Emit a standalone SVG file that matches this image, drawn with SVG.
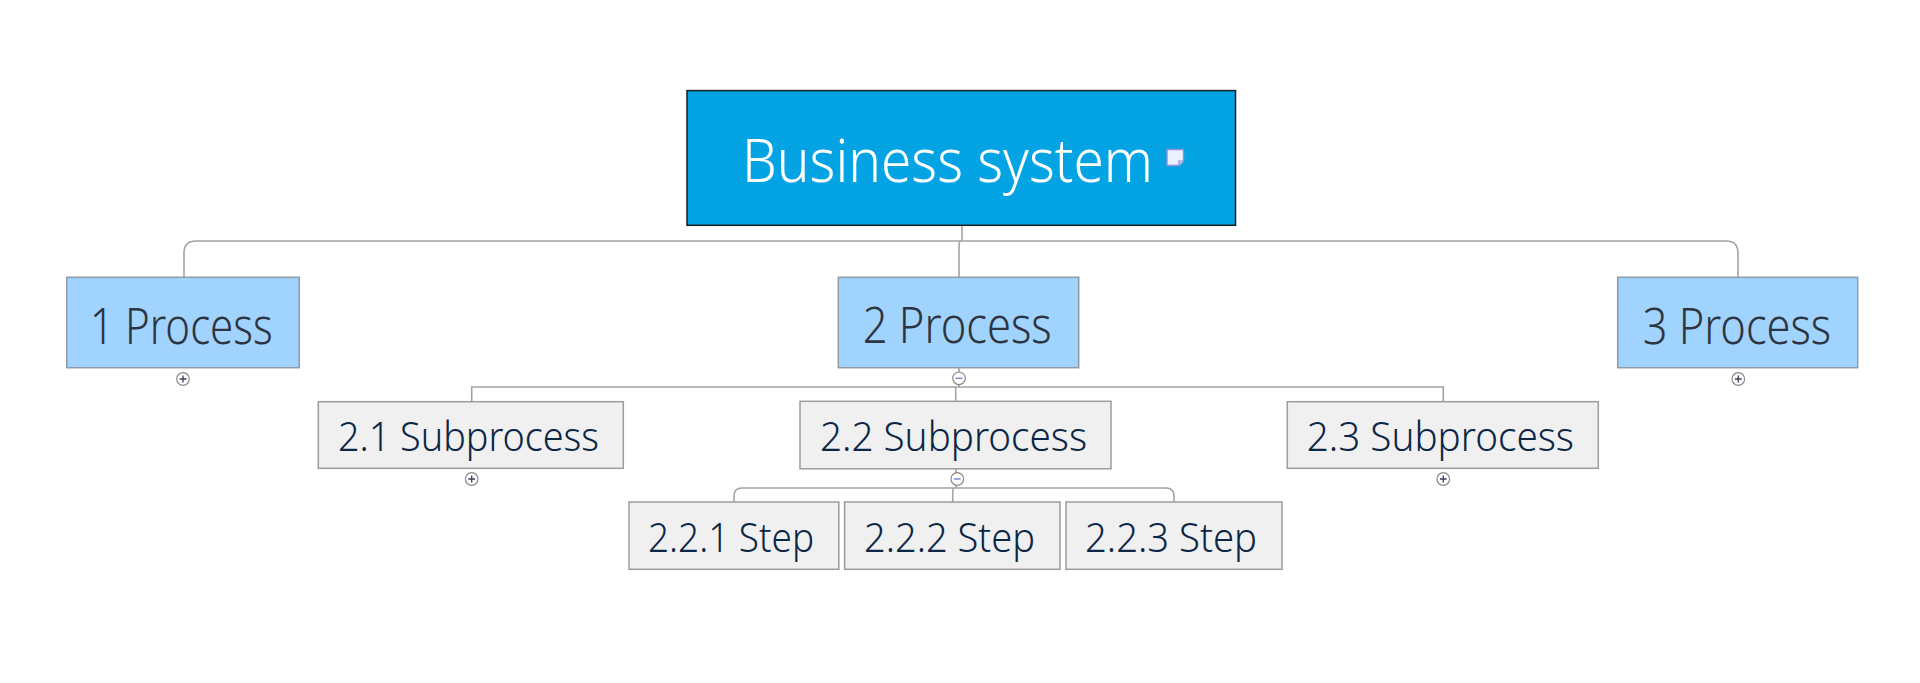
<svg xmlns="http://www.w3.org/2000/svg" width="1920" height="683" viewBox="0 0 1920 683">
<style>
.bg{fill:#ffffff}
.root{fill:#03a3e4;stroke:#1c1c1c;stroke-width:1.5}
.proc{fill:#a0d4fe;stroke:#8e9aa6;stroke-width:1.5}
.sub{fill:#f0f0f0;stroke:#9c9c9c;stroke-width:1.5}
.t{font-family:"Noto Sans","Open Sans","Liberation Sans",sans-serif;font-weight:300}
.troot{fill:#ffffff;font-size:61px}
.tproc{fill:#2e3440;font-size:49px}
.tsub{fill:#0c2646;font-size:41px}
.conn{fill:none;stroke:#a3a3a3;stroke-width:1.6}
.tog{fill:#ffffff;stroke:#8a8a8a;stroke-width:1.2}
.glyph{fill:none;stroke:#3a3f55;stroke-width:1.3}
.glyphm{fill:none;stroke:#6a7ccc;stroke-width:1.3}
</style>
<rect class="bg" x="0" y="0" width="1920" height="683"/>
<g id="connectors">
<path class="conn" d="M962 225 V240.5"/>
<path class="conn" d="M184 277.3 V253 Q184 241 196 241 H1726 Q1738 241 1738 253 V277.3"/>
<path class="conn" d="M960 241 Q959 243 959 248 V277.3"/>
<path class="conn" d="M959 367.7 V387"/>
<path class="conn" d="M471.7 401.7 V387 H1443.3 V401.7"/>
<path class="conn" d="M955.7 387 V401"/>
<path class="conn" d="M956 469 V488"/>
<path class="conn" d="M734 502 V496 Q734 488 742 488 H1166 Q1174 488 1174 496 V502"/>
<path class="conn" d="M953.5 488 Q952.7 490 952.7 494 V502"/>
</g>
<g id="root">
<rect class="root" x="687" y="90.6" width="548.5" height="134.7"/>
<text class="t troot" x="742" y="181.7" textLength="411" lengthAdjust="spacingAndGlyphs">Business system</text>
<path d="M1167 149.5 H1183.5 V161 L1179 165.5 H1167 Z" fill="#eceffd" stroke="#8c92d6" stroke-width="1.4"/>
<path d="M1183.5 161 H1179 V165.5" fill="#c8cdf3" stroke="#8c92d6" stroke-width="1.2"/>
</g>
<g id="p1">
<rect class="proc" x="66.7" y="277.3" width="232.6" height="90.4"/>
<text class="t tproc" x="90" y="343.5" textLength="182.7" lengthAdjust="spacingAndGlyphs">1 Process</text>
<circle class="tog" cx="183" cy="379" r="6.3"/>
<path class="glyph" d="M179.6 379 H186.4 M183 375.6 V382.4"/>
</g>
<g id="p2">
<rect class="proc" x="838.3" y="277.3" width="240.4" height="90.4"/>
<text class="t tproc" x="862.7" y="343" textLength="189" lengthAdjust="spacingAndGlyphs">2 Process</text>
<circle class="tog" cx="959" cy="378.3" r="6.3"/>
<path class="glyphm" d="M955.6 378.3 H962.4"/>
</g>
<g id="p3">
<rect class="proc" x="1617.7" y="277.3" width="240" height="90.4"/>
<text class="t tproc" x="1642.7" y="343.5" textLength="188.3" lengthAdjust="spacingAndGlyphs">3 Process</text>
<circle class="tog" cx="1738.3" cy="379" r="6.3"/>
<path class="glyph" d="M1734.9 379 H1741.7 M1738.3 375.6 V382.4"/>
</g>
<g id="s21">
<rect class="sub" x="318.3" y="401.7" width="305" height="66.6"/>
<text class="t tsub" x="338" y="451" textLength="261" lengthAdjust="spacingAndGlyphs">2.1 Subprocess</text>
<circle class="tog" cx="471.7" cy="479" r="6.3"/>
<path class="glyph" d="M468.3 479 H475.1 M471.7 475.6 V482.4"/>
</g>
<g id="s22">
<rect class="sub" x="800" y="401.3" width="311" height="67.5"/>
<text class="t tsub" x="820" y="451" textLength="267" lengthAdjust="spacingAndGlyphs">2.2 Subprocess</text>
<circle class="tog" cx="957.3" cy="479" r="6.3"/>
<path class="glyphm" d="M953.9 479 H960.7"/>
</g>
<g id="s23">
<rect class="sub" x="1287.3" y="401.7" width="311" height="66.6"/>
<text class="t tsub" x="1306.7" y="451" textLength="267.3" lengthAdjust="spacingAndGlyphs">2.3 Subprocess</text>
<circle class="tog" cx="1443.3" cy="479" r="6.3"/>
<path class="glyph" d="M1439.9 479 H1446.7 M1443.3 475.6 V482.4"/>
</g>
<g id="st1">
<rect class="sub" x="629" y="502" width="209.8" height="67.3"/>
<text class="t tsub" x="648" y="551.7" textLength="166" lengthAdjust="spacingAndGlyphs">2.2.1 Step</text>
</g>
<g id="st2">
<rect class="sub" x="844.6" y="502" width="215.4" height="67.3"/>
<text class="t tsub" x="864" y="551.7" textLength="171" lengthAdjust="spacingAndGlyphs">2.2.2 Step</text>
</g>
<g id="st3">
<rect class="sub" x="1066" y="502" width="216" height="67.3"/>
<text class="t tsub" x="1085" y="551.7" textLength="172" lengthAdjust="spacingAndGlyphs">2.2.3 Step</text>
</g>
</svg>
